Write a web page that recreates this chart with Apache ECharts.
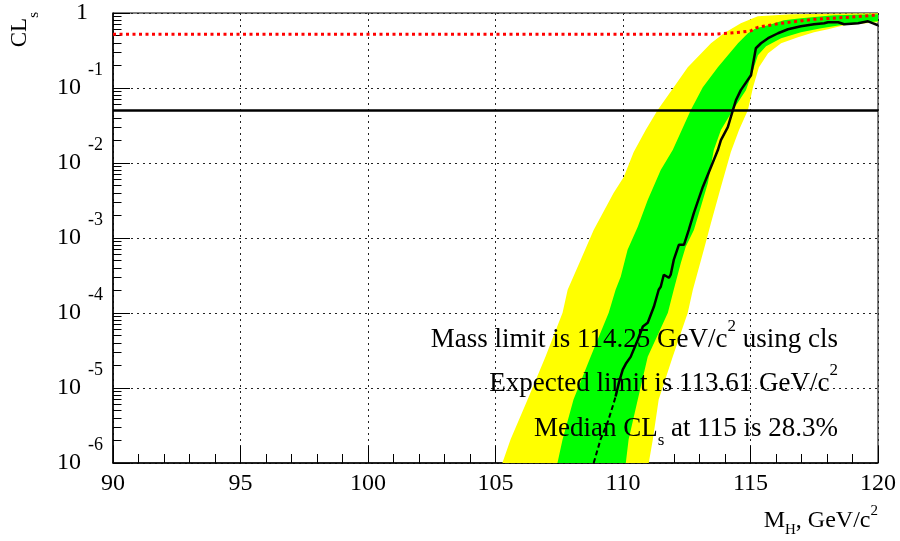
<!DOCTYPE html>
<html>
<head>
<meta charset="utf-8">
<script src="https://cdn.jsdelivr.net/npm/echarts@6/dist/echarts.min.js"></script>
<style>
html,body{margin:0;padding:0;background:#fff;}
#chart{width:900px;height:541px;}
</style>
</head>
<body>
<div id="chart"></div>
<script>
// ---- data: [M_H (GeV/c^2), CLs] ----
const xRange = [90, 120];
const yDecades = [1e-6, 1e-5, 1e-4, 1e-3, 1e-2, 1e-1, 1];
const clsThreshold = 0.05;

// 2-sigma band (yellow): high-CLs edge and low-CLs edge
const yellowUpperEdge = [[105.27,1.0e-6],[105.59,2.06e-6],[106.26,7.0e-6],[106.96,2.62e-5],[107.63,1.01e-4],[107.83,2.04e-4],[108.34,5.1e-4],[108.85,1.28e-3],[109.63,3.99e-3],[110.03,6.5e-3],[110.42,0.0140],[110.89,0.0275],[111.36,0.0507],[111.99,0.1026],[112.54,0.189],[113.45,0.395],[113.96,0.537],[114.62,0.729],[115.29,0.904],[116.59,0.961],[120,0.99]];
const yellowLowerEdge = [[111.01,1.0e-6],[111.17,2.06e-6],[111.40,7.0e-6],[111.95,2.62e-5],[112.54,1.01e-4],[112.74,2.04e-4],[113.17,6.95e-4],[113.45,1.59e-3],[113.84,4.8e-3],[114.23,0.0140],[114.55,0.0275],[114.90,0.0507],[115.10,0.1026],[115.33,0.189],[115.69,0.291],[116.20,0.395],[116.86,0.475],[117.49,0.554],[118.04,0.607],[118.67,0.686],[120,0.752]];
// 1-sigma band (green)
const greenUpperEdge = [[107.43,1.0e-6],[107.63,2.06e-6],[108.06,7.0e-6],[108.73,2.62e-5],[109.44,1.01e-4],[109.71,2.04e-4],[109.91,3.04e-4],[110.18,6.95e-4],[110.58,1.41e-3],[110.97,3.22e-3],[111.48,8.07e-3],[111.95,0.0149],[112.66,0.0507],[113.13,0.1026],[113.72,0.189],[114.51,0.395],[114.90,0.537],[115.21,0.626],[115.69,0.686],[116.31,0.800],[116.98,0.850],[118.28,0.932],[120,0.961]];
const greenLowerEdge = [[110.11,1.0e-6],[110.22,2.06e-6],[110.58,7.0e-6],[110.97,2.62e-5],[111.76,1.01e-4],[111.99,2.04e-4],[112.27,4.67e-4],[112.46,7.62e-4],[112.78,1.28e-3],[113.05,2.60e-3],[113.33,5.42e-3],[113.56,0.0149],[113.84,0.0275],[114.31,0.0507],[114.82,0.0936],[115.10,0.173],[115.29,0.274],[115.61,0.360],[116.20,0.461],[116.98,0.554],[117.77,0.626],[118.75,0.707],[120,0.775]];

// observed CLs (solid) and its dashed low tail
const observedCLs = [[109.71,7.7e-6],[109.84,1.18e-5],[109.99,1.76e-5],[110.11,2.1e-5],[110.30,2.6e-5],[110.58,4.4e-5],[110.78,6.6e-5],[110.97,7.4e-5],[111.21,1.21e-4],[111.40,2.04e-4],[111.48,2.24e-4],[111.60,3.24e-4],[111.80,2.95e-4],[111.87,3.24e-4],[111.99,5.1e-4],[112.19,8.1e-4],[112.39,8.1e-4],[112.58,1.28e-3],[112.78,2.16e-3],[113.13,4.8e-3],[113.45,8.85e-3],[113.72,0.0149],[113.84,0.0202],[114.11,0.0301],[114.31,0.0507],[114.43,0.0689],[114.62,0.0936],[115.02,0.148],[115.21,0.339],[115.41,0.395],[115.69,0.461],[116.08,0.537],[116.47,0.607],[116.98,0.665],[117.49,0.707],[117.89,0.729],[118.04,0.752],[118.44,0.752],[118.67,0.707],[119.22,0.729],[119.61,0.775],[119.81,0.729],[120,0.686]];
const observedTail = [[108.85,1.0e-6],[109.12,2.06e-6],[109.40,3.5e-6],[109.63,6.2e-6],[109.71,7.7e-6]];

// red dotted reference curve
const redCurve = [[90,0.52],[113.56,0.52],[114.62,0.554],[115.02,0.58],[115.21,0.63],[115.29,0.645],[116.19,0.729],[117.49,0.824],[118.83,0.877],[119.81,0.932],[120,0.94]];

const annotations = [
  {parts: [['t','Mass limit is 114.25 GeV/c'],['sup','2'],['t',' using cls']]},
  {parts: [['t','Expected limit is 113.61 GeV/c'],['sup','2']]},
  {parts: [['t','Median CL'],['sub','s'],['t',' at 115 is 28.3%']]}
];

// ---- chart ----
const FONT = 'Liberation Serif';
const yMinorTicks = [];
for (let d = 0; d < yDecades.length - 1; d++) {
  for (let k = 2; k <= 9; k++) yMinorTicks.push(k * yDecades[d]);
}

function bandSeries(upper, lower, color, z) {
  return {
    type: 'custom',
    coordinateSystem: 'cartesian2d',
    xAxisIndex: 0, yAxisIndex: 0,
    data: [upper[0]],
    encode: {x: 0, y: 1},
    clip: true,
    z: z,
    silent: true,
    renderItem: function (params, api) {
      const pts = upper.concat(lower.slice().reverse()).map(function (p) { return api.coord(p); });
      return {type: 'polygon', shape: {points: pts}, style: {fill: color, stroke: null}};
    }
  };
}

function richText(parts) {
  return parts.map(function (p) { return '{' + p[0] + '|' + p[1] + '}'; }).join('');
}

const annoRich = {
  t: {fontFamily: FONT, fontSize: 27, fill: '#000', verticalAlign: 'middle'},
  sup: {fontFamily: FONT, fontSize: 17, fill: '#000', padding: [0, 0, 26, 0], verticalAlign: 'middle'},
  sub: {fontFamily: FONT, fontSize: 17, fill: '#000', padding: [24, 0, 0, 0], verticalAlign: 'middle'}
};
const annoY = [340, 384, 429];

const chart = echarts.init(document.getElementById('chart'), null, {renderer: 'canvas'});
const option = {
  animation: false,
  backgroundColor: '#fff',
  grid: {left: 113, top: 13, width: 765, height: 450, show: true, borderColor: '#000', borderWidth: 1, backgroundColor: 'transparent'},
  xAxis: {
    type: 'value', min: xRange[0], max: xRange[1], interval: 5,
    axisLine: {show: true, onZero: false, lineStyle: {color: '#000', width: 1.5}},
    axisTick: {show: true, inside: true, length: 17, lineStyle: {color: '#000', width: 1}},
    minorTick: {show: true, splitNumber: 5, length: 9, lineStyle: {color: '#000', width: 1}},
    axisLabel: {fontFamily: FONT, fontSize: 24, color: '#000', margin: 9},
    splitLine: {show: true, lineStyle: {color: '#222', type: [2, 4], width: 1}}
  },
  yAxis: [{
    type: 'log', logBase: 10, min: yDecades[0], max: yDecades[yDecades.length - 1], splitNumber: 6,
    axisLine: {show: true, onZero: false, lineStyle: {color: '#000', width: 1.5}},
    axisTick: {show: true, inside: true, length: 17, lineStyle: {color: '#000', width: 1}},
    axisLabel: {
      margin: 10, color: '#000', fontFamily: FONT,
      formatter: function (v) {
        const e = Math.round(Math.log10(v));
        if (e === 0) return '{one|1}';
        return '{b|10}{e|' + e + '}';
      },
      rich: {
        b: {fontFamily: FONT, fontSize: 24, color: '#000'},
        e: {fontFamily: FONT, fontSize: 18, color: '#000', padding: [0, 0, 36, 7]},
        one: {fontFamily: FONT, fontSize: 24, color: '#000', padding: [0, 15, 0, 0]}
      }
    },
    splitLine: {show: true, lineStyle: {color: '#222', type: [2, 4], width: 1}}
  }, {
    type: 'log', logBase: 10, min: yDecades[0], max: yDecades[yDecades.length - 1], position: 'left',
    axisLine: {show: false},
    axisLabel: {show: false},
    splitLine: {show: false},
    axisTick: {show: true, inside: true, length: 8.5, customValues: yMinorTicks, lineStyle: {color: '#000', width: 1}}
  }],
  series: [
    bandSeries(yellowUpperEdge, yellowLowerEdge, '#ffff00', 1),
    bandSeries(greenUpperEdge, greenLowerEdge, '#00ff00', 2),
    {type: 'line', data: redCurve, symbol: 'none', z: 3, lineStyle: {color: '#ff0000', width: 3, type: [3, 3.5]}, silent: true},
    {type: 'line', data: [[xRange[0], clsThreshold], [xRange[1], clsThreshold]], symbol: 'none', z: 4, lineStyle: {color: '#000', width: 2.5}, silent: true},
    {type: 'line', data: observedCLs, symbol: 'none', z: 5, lineStyle: {color: '#000', width: 2.5}, silent: true},
    {type: 'line', data: observedTail, symbol: 'none', z: 5, lineStyle: {color: '#000', width: 2, type: [5, 3]}, silent: true}
  ],
  graphic: annotations.map(function (a, i) {
    return {type: 'text', x: 838, y: annoY[i], z: 100,
      style: {text: richText(a.parts), rich: annoRich, align: 'right', verticalAlign: 'middle', fontFamily: FONT, fontSize: 27, fill: '#000'}};
  }).concat([
    {type: 'text', x: 878, y: 521, z: 100,
      style: {text: '{m|M}{sub|H}{m|, GeV/c}{sup|2}', align: 'right', verticalAlign: 'middle', fontFamily: FONT, fontSize: 24, fill: '#000',
        rich: {
          m: {fontFamily: FONT, fontSize: 24, fill: '#000', verticalAlign: 'middle'},
          sub: {fontFamily: FONT, fontSize: 15, fill: '#000', padding: [19, 0, 0, 0], verticalAlign: 'middle'},
          sup: {fontFamily: FONT, fontSize: 15, fill: '#000', padding: [0, 0, 20, 0], verticalAlign: 'middle'}
        }}},
    {type: 'text', x: 20, y: 12, rotation: Math.PI / 2, z: 100,
      style: {text: '{m|CL}{sub|s}', align: 'right', verticalAlign: 'middle', fontFamily: FONT, fontSize: 23, fill: '#000',
        rich: {
          m: {fontFamily: FONT, fontSize: 23, fill: '#000', verticalAlign: 'middle'},
          sub: {fontFamily: FONT, fontSize: 15, fill: '#000', padding: [28, 0, 0, 0], verticalAlign: 'middle'}
        }}}
  ])
};
chart.setOption(option);
</script>
</body>
</html>
